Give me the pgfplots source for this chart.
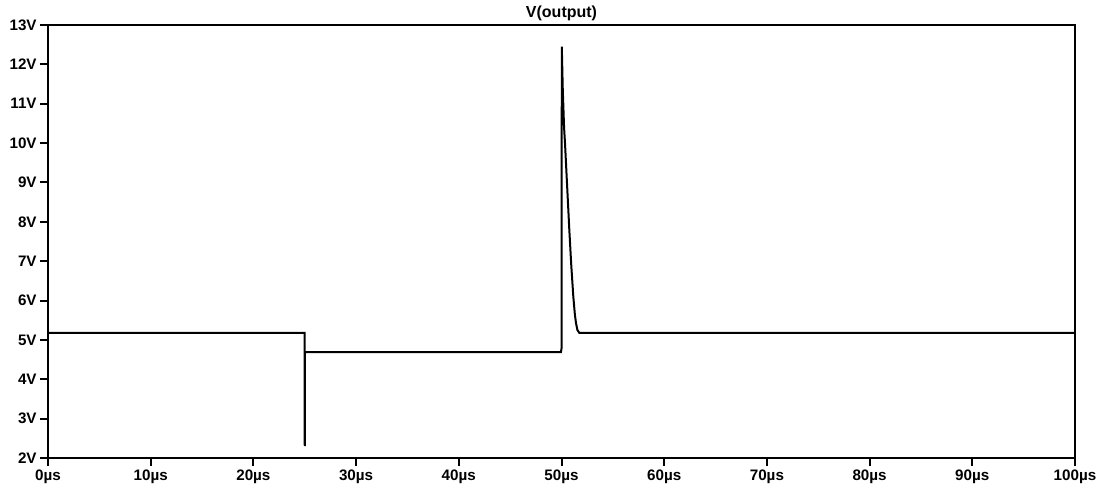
\documentclass[border=0pt]{standalone}
\usepackage{fontspec}
\setmainfont{Liberation Sans}
\usepackage{pgfplots}
\pgfplotsset{compat=1.18}

\begin{document}
\begin{tikzpicture}
  \begin{axis}[
    scale only axis,
    width=513.5pt, height=216.5pt,
    xmin=0, xmax=100, ymin=2, ymax=13,
    xtick={0,10,...,100}, ytick={2,3,...,13},
    xticklabels={0µs,10µs,20µs,30µs,40µs,50µs,60µs,70µs,80µs,90µs,100µs},
    yticklabels={2V,3V,4V,5V,6V,7V,8V,9V,10V,11V,12V,13V},
    tick align=outside, xtick pos=bottom, ytick pos=left,
    major tick length=4pt,
    every tick/.style={black, line width=1pt},
    axis line style={line width=1pt},
    ticklabel style={font=\bfseries\fontsize{7.6}{9}\selectfont},
    xticklabel style={inner sep=1pt, yshift=-0.5pt},
    yticklabel style={inner sep=1pt, xshift=-0.5pt},
    title={V(output)},
    title style={font=\bfseries\fontsize{8}{9}\selectfont, at={(0.5,1)}, anchor=base, yshift=-2.5pt, inner sep=0pt},
  ]
    \addplot[black, line width=1pt, mark=none] coordinates {
      (0,5.18) (24.99,5.18) (25.0,2.30) (25.02,4.69) (49.95,4.69)
      (50.0,4.78) (50.03,12.45) (50.12,11.4) (50.25,10.4) (50.34,10.0)
      (50.55,8.9) (50.76,7.8) (50.95,6.9) (51.15,6.1) (51.3,5.65)
      (51.41,5.43) (51.55,5.25) (51.73,5.18) (100,5.18)
    };
    \coordinate (sw) at (rel axis cs:0,0);
    \coordinate (ne) at (rel axis cs:1,1);
  \end{axis}
  \pgfresetboundingbox
  \path[use as bounding box] ([xshift=-24pt,yshift=-16pt]sw) rectangle ([xshift=14.5pt,yshift=12.5pt]ne);
\end{tikzpicture}
\end{document}
